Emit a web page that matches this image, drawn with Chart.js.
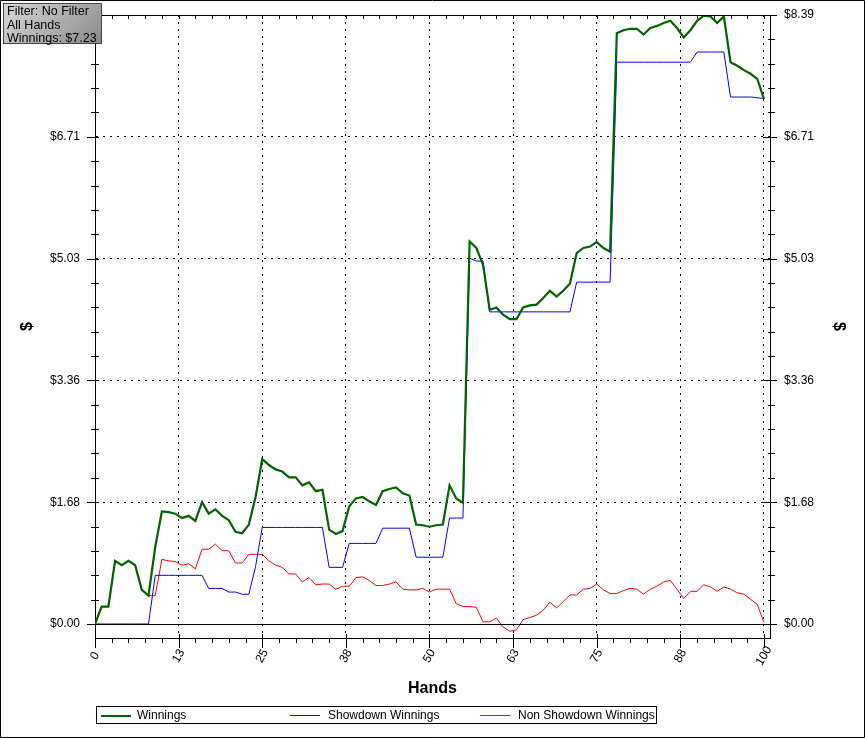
<!DOCTYPE html>
<html>
<head>
<meta charset="utf-8">
<script src="https://cdn.jsdelivr.net/npm/chart.js@4/dist/chart.umd.min.js"></script>
<style>
  body { margin: 0; background: #fff; }
  #wrap { position: relative; width: 865px; height: 738px; font-family: "Liberation Sans", Arial, sans-serif; color: #000; }
  #chart { position: absolute; left: 0; top: 0; }
  #filterBox {
    position: absolute; left: 3px; top: 3px; width: 99px; height: 41px; box-sizing: border-box;
    border: 1px solid #444; background: linear-gradient(135deg, #d8d8d8, #8a8a8a);
    font-size: 12.5px; line-height: 13.5px; padding: 1px 0 0 3px; white-space: nowrap;
  }
  #legend {
    position: absolute; left: 96px; top: 706px; width: 561px; height: 18px; box-sizing: border-box;
    border: 1px solid #000; font-size: 12px;
  }
  #legend .swatch { position: absolute; top: 8px; width: 30px; }
  #legend .label { position: absolute; top: 1px; line-height: 15px; white-space: nowrap; }
</style>
</head>
<body>
<div id="wrap">
  <canvas id="chart" width="865" height="738"></canvas>
  <div id="filterBox">Filter: No Filter<br>All Hands<br>Winnings: $7.23</div>
  <div id="legend"></div>
</div>
<script>
// hands played, 0..100
const hands = Array.from({ length: 101 }, (_, i) => i);

const winnings = [
  0, 0.24, 0.24, 0.87, 0.81, 0.87, 0.81, 0.47, 0.39, 1.06,
  1.55, 1.54, 1.52, 1.46, 1.49, 1.42, 1.68, 1.52, 1.58, 1.49,
  1.43, 1.27, 1.25, 1.37, 1.75, 2.27, 2.19, 2.13, 2.10, 2.02,
  2.02, 1.91, 1.95, 1.83, 1.85, 1.30, 1.24, 1.28, 1.62, 1.73,
  1.75, 1.69, 1.64, 1.83, 1.86, 1.88, 1.80, 1.77, 1.37, 1.36,
  1.34, 1.36, 1.37, 1.91, 1.73, 1.67, 5.27, 5.18, 4.95, 4.33,
  4.36, 4.26, 4.20, 4.20, 4.36, 4.39, 4.40, 4.49, 4.59, 4.51,
  4.59, 4.69, 5.11, 5.18, 5.20, 5.26, 5.18, 5.13, 8.14, 8.18,
  8.20, 8.20, 8.12, 8.21, 8.24, 8.28, 8.31, 8.21, 8.08, 8.18,
  8.31, 8.38, 8.37, 8.28, 8.37, 7.74, 7.69, 7.63, 7.58, 7.51,
  7.23
];

const showdown = [
  0, 0, 0, 0, 0, 0, 0, 0, 0, 0.67,
  0.67, 0.67, 0.67, 0.67, 0.67, 0.67, 0.67, 0.49, 0.49, 0.49,
  0.44, 0.44, 0.41, 0.41, 0.79, 1.33, 1.33, 1.33, 1.33, 1.33,
  1.33, 1.33, 1.33, 1.33, 1.33, 0.78, 0.78, 0.78, 1.11, 1.11,
  1.11, 1.11, 1.11, 1.32, 1.32, 1.32, 1.32, 1.32, 0.92, 0.92,
  0.92, 0.92, 0.92, 1.46, 1.46, 1.46, 5.04, 5.00, 5.00, 4.30,
  4.30, 4.30, 4.30, 4.30, 4.30, 4.30, 4.30, 4.30, 4.30, 4.30,
  4.30, 4.30, 4.71, 4.71, 4.71, 4.71, 4.71, 4.71, 7.74, 7.74,
  7.74, 7.74, 7.74, 7.74, 7.74, 7.74, 7.74, 7.74, 7.74, 7.74,
  7.88, 7.88, 7.88, 7.88, 7.88, 7.26, 7.26, 7.26, 7.26, 7.25,
  7.24
];

const nonShowdown = [
  0, 0.24, 0.24, 0.87, 0.81, 0.87, 0.81, 0.47, 0.39, 0.39,
  0.89, 0.87, 0.86, 0.81, 0.83, 0.76, 1.03, 1.03, 1.10, 1.01,
  1.01, 0.84, 0.84, 0.96, 0.96, 0.96, 0.87, 0.81, 0.78, 0.69,
  0.69, 0.58, 0.64, 0.54, 0.55, 0.55, 0.48, 0.52, 0.52, 0.64,
  0.65, 0.60, 0.53, 0.53, 0.55, 0.58, 0.48, 0.47, 0.47, 0.49,
  0.44, 0.48, 0.48, 0.48, 0.28, 0.24, 0.24, 0.23, 0.03, 0.03,
  0.08, -0.04, -0.10, -0.08, 0.06, 0.09, 0.12, 0.19, 0.30, 0.22,
  0.31, 0.40, 0.40, 0.48, 0.49, 0.55, 0.47, 0.42, 0.42, 0.46,
  0.49, 0.48, 0.41, 0.48, 0.52, 0.58, 0.60, 0.48, 0.35, 0.45,
  0.45, 0.54, 0.51, 0.45, 0.51, 0.48, 0.43, 0.41, 0.34, 0.27,
  0.02
];

const xTickValues = [0, 12.5, 25, 37.5, 50, 62.5, 75, 87.5, 100];
const xTickLabels = ['0', '13', '25', '38', '50', '63', '75', '88', '100'];
const yTickValues = [0, 1.678, 3.356, 5.034, 6.712, 8.39];
const yTickLabels = ['$0.00', '$1.68', '$3.36', '$5.03', '$6.71', '$8.39'];

const seriesNames = ['Winnings', 'Showdown Winnings', 'Non Showdown Winnings'];
const seriesColors = ['#006400', '#0000ff', '#ff0000'];
const seriesWidths = [2.2, 1, 1];

const font = { family: '"Liberation Sans", Arial, sans-serif', size: 12 };
const titleFont = { family: '"Liberation Sans", Arial, sans-serif', size: 16, weight: 'bold' };

// minor ticks, top edge, zero line and slanted hand labels
const frameTicks = {
  id: 'frameTicks',
  afterDraw(chart) {
    const { ctx, chartArea: a, scales: { x, y } } = chart;
    ctx.save();
    ctx.strokeStyle = '#000';
    ctx.lineWidth = 1;
    ctx.beginPath();
    ctx.rect(0.5, 0.5, chart.width - 1, chart.height - 1);
    ctx.moveTo(a.left, a.top + 0.5);
    ctx.lineTo(a.right + 7, a.top + 0.5);
    const y0 = Math.round(y.getPixelForValue(0)) + 0.5;
    ctx.moveTo(a.left - 8, y0);
    ctx.lineTo(a.right + 7, y0);
    for (let i = 0; i <= 40; i++) {
      const px = Math.round(x.getPixelForValue(i * 2.5)) + 0.5;
      const major = i % 5 === 0;
      ctx.moveTo(px, major ? a.bottom - 4 : a.bottom);
      ctx.lineTo(px, a.bottom + (major ? 10 : 5));
      ctx.moveTo(px, a.top);
      ctx.lineTo(px, a.top + 4);
    }
    for (let k = 0; k < yTickValues.length - 1; k++) {
      const step = (yTickValues[k + 1] - yTickValues[k]) / 5;
      for (let j = 0; j < 5; j++) {
        const py = Math.round(y.getPixelForValue(yTickValues[k] + j * step)) + 0.5;
        const major = j === 0;
        ctx.moveTo(a.left - (major ? 8 : 4), py);
        ctx.lineTo(a.left + 4, py);
        ctx.moveTo(a.right - (major ? 7 : 2), py);
        ctx.lineTo(a.right + (major ? 7 : 5), py);
      }
    }
    ctx.stroke();

    ctx.fillStyle = '#000';
    ctx.font = '12px "Liberation Sans", Arial, sans-serif';
    ctx.textAlign = 'center';
    ctx.textBaseline = 'middle';
    xTickValues.forEach((v, i) => {
      ctx.save();
      ctx.translate(x.getPixelForValue(v), a.bottom + 18);
      ctx.rotate(-Math.PI / 3);
      ctx.fillText(xTickLabels[i], 0, 0);
      ctx.restore();
    });
    ctx.restore();
  }
};

const dotted = c => (c.tick && c.tick.value === 0 ? 'rgba(0,0,0,0)' : '#000');
const fitY = s => { s.width = 95; s.paddingTop = 0; s.paddingBottom = 0; };

new Chart(document.getElementById('chart'), {
  type: 'line',
  data: {
    labels: hands,
    datasets: [winnings, showdown, nonShowdown].map((d, i) => ({
      label: seriesNames[i],
      data: d,
      borderColor: seriesColors[i],
      backgroundColor: seriesColors[i],
      borderWidth: seriesWidths[i],
      pointRadius: 0,
      tension: 0,
      fill: false
    }))
  },
  options: {
    responsive: false,
    animation: false,
    devicePixelRatio: 1,
    layout: { padding: { top: 15 } },
    plugins: { legend: { display: false }, tooltip: { enabled: false } },
    scales: {
      x: {
        type: 'linear',
        min: 0,
        max: 100.9,
        afterFit: s => { s.height = 100; s.paddingLeft = 0; s.paddingRight = 0; },
        afterBuildTicks: s => { s.ticks = xTickValues.map(v => ({ value: v })); },
        ticks: { display: false },
        grid: { color: dotted, drawTicks: false, lineWidth: 1 },
        border: { color: '#000', width: 1, dash: [2, 5] },
        title: { display: true, text: 'Hands', font: titleFont, color: '#000', padding: { bottom: 40 } }
      },
      y: {
        position: 'left',
        min: -0.193,
        max: 8.39,
        afterFit: fitY,
        afterBuildTicks: s => { s.ticks = yTickValues.map(v => ({ value: v })); },
        ticks: { callback: (v, i) => yTickLabels[i], font, color: '#000', padding: 15, autoSkip: false },
        grid: { color: dotted, drawTicks: false, lineWidth: 1 },
        border: { color: '#000', width: 1, dash: [2, 5] },
        title: { display: true, text: '$', font: titleFont, color: '#000', padding: { top: 18 } }
      },
      y2: {
        position: 'right',
        min: -0.193,
        max: 8.39,
        afterFit: fitY,
        afterBuildTicks: s => { s.ticks = yTickValues.map(v => ({ value: v })); },
        ticks: { callback: (v, i) => yTickLabels[i], font, color: '#000', padding: 14, autoSkip: false },
        grid: { display: false, drawTicks: false },
        border: { color: '#000', width: 1 },
        title: { display: true, text: '$', font: titleFont, color: '#000', padding: { top: 17 } }
      }
    }
  },
  plugins: [frameTicks]
});

// html legend
const legend = document.getElementById('legend');
const swatchLeft = [4, 193, 383];
const labelLeft = [40, 231, 421];
seriesNames.forEach((name, i) => {
  const sw = document.createElement('div');
  sw.className = 'swatch';
  sw.style.left = swatchLeft[i] + 'px';
  sw.style.borderTop = (i === 0 ? 2 : 1) + 'px solid ' + seriesColors[i];
  legend.appendChild(sw);
  const lb = document.createElement('div');
  lb.className = 'label';
  lb.style.left = labelLeft[i] + 'px';
  lb.textContent = name;
  legend.appendChild(lb);
});
</script>
</body>
</html>
